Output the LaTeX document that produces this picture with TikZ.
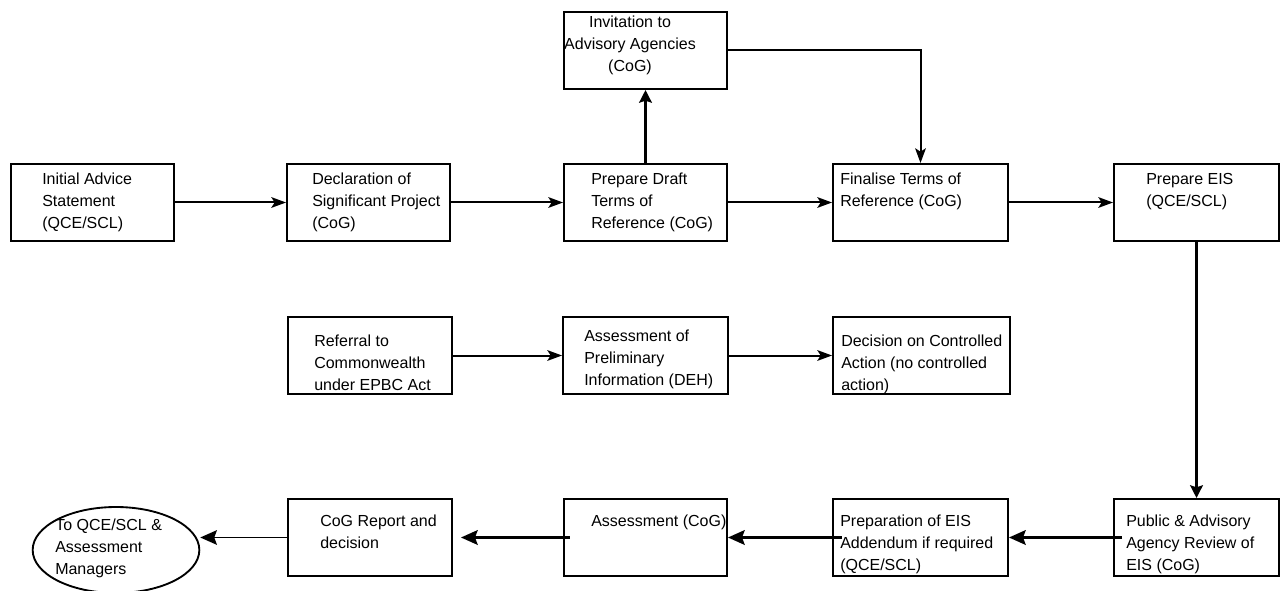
\documentclass[tikz,border=0pt]{standalone}
\usepackage{fontspec}
\setmainfont{Liberation Sans}
\usetikzlibrary{arrows.meta,shapes.geometric}
\begin{document}
\begin{tikzpicture}[x=0.75pt,y=-0.75pt,
  box/.style={draw, line width=1.5pt, inner sep=0pt, anchor=north west, minimum height=57.75pt},
  txt/.style={font=\fontsize{12}{16.3}\selectfont, align=left, inner sep=0pt, anchor=north west},
  arr/.style={line width=1.5pt, -{Stealth[length=11pt,width=8pt,inset=2.5pt]}},
  arrthick/.style={line width=2.3pt, -{Stealth[length=9.5pt,width=9.5pt,inset=1.5pt]}},
  arrbig/.style={line width=1.9pt, -{Stealth[length=12.5pt,width=11pt,inset=2pt]}},
  arrthin/.style={line width=1.1pt, -{Stealth[length=12.5pt,width=11pt,inset=2pt]}}]
\useasboundingbox (0,0) rectangle (1280,591);
% boxes
\node[box, minimum width=122.25pt] (inv) at (563,11) {};
\node[box, minimum width=122.25pt] (ias) at (10,163) {};
\node[box, minimum width=122.25pt] (dsp) at (286,163) {};
\node[box, minimum width=122.25pt] (pdt) at (563,163) {};
\node[box, minimum width=131.25pt] (ftr) at (832,163) {};
\node[box, minimum width=123.75pt] (eis) at (1113,163) {};
\node[box, minimum width=123pt] (ref) at (287,316) {};
\node[box, minimum width=123.75pt] (api) at (562,316) {};
\node[box, minimum width=132.75pt] (dca) at (832,316) {};
\node[box, minimum width=123pt] (rep) at (287,498) {};
\node[box, minimum width=122.25pt] (ass) at (563,498) {};
\node[box, minimum width=131.25pt] (pea) at (832,498) {};
\node[box, minimum width=123.75pt] (par) at (1113,498) {};
\node[draw, ellipse, line width=1.4pt, inner sep=0pt, minimum width=125pt, minimum height=64.5pt] (to) at (116,550) {};
% texts
\node[txt, align=center, anchor=north] (inv-t) at (630,16) {Invitation to\\Advisory Agencies\\(CoG)};
\node[txt] (ias-t) at (42,173) {Initial Advice\\Statement\\(QCE/SCL)};
\node[txt] (dsp-t) at (312,173) {Declaration of\\Significant Project\\(CoG)};
\node[txt] (pdt-t) at (591,173) {Prepare Draft\\Terms of\\Reference (CoG)};
\node[txt] (ftr-t) at (840,173) {Finalise Terms of\\Reference (CoG)};
\node[txt] (eis-t) at (1146,173) {Prepare EIS\\(QCE/SCL)};
\node[txt] (ref-t) at (314,335) {Referral to\\Commonwealth\\under EPBC Act};
\node[txt] (api-t) at (584,330) {Assessment of\\Preliminary\\Information (DEH)};
\node[txt] (dca-t) at (841,335) {Decision on Controlled\\Action (no controlled\\action)};
\node[txt] (rep-t) at (320,515) {CoG Report and\\decision};
\node[txt] (ass-t) at (591,515) {Assessment (CoG)};
\node[txt] (pea-t) at (840,515) {Preparation of EIS\\Addendum if required\\(QCE/SCL)};
\node[txt] (par-t) at (1126,515) {Public \& Advisory\\Agency Review of\\EIS (CoG)};
\node[txt] (to-t) at (55,519) {To QCE/SCL \&\\Assessment\\Managers};
% connectors
\draw[arr] (ias.east) -- (dsp.west);
\draw[arr] (dsp.east) -- (pdt.west);
\draw[arr] (pdt.east) -- (ftr.west);
\draw[arr] (ftr.east) -- (eis.west);
\draw[arrthick] (pdt.north) -- (inv.south);
\draw[arr] (inv.east) -| (ftr.north);
\draw[arrthick] (eis.south) -- (par.north);
\draw[arr] (ref.east) -- (api.west);
\draw[arr] (api.east) -- (dca.west);
\draw[arrbig, shorten <=-6.75pt] (par.west) -- (pea.east);
\draw[arrbig, shorten <=-7.5pt] (pea.west) -- (ass.east);
\draw[arrbig, shorten <=-5pt, shorten >=6pt] (ass.west) -- (rep.east);
\draw[arrthin] (rep.west) -- (rep.west -| to.east);
\end{tikzpicture}
\end{document}
